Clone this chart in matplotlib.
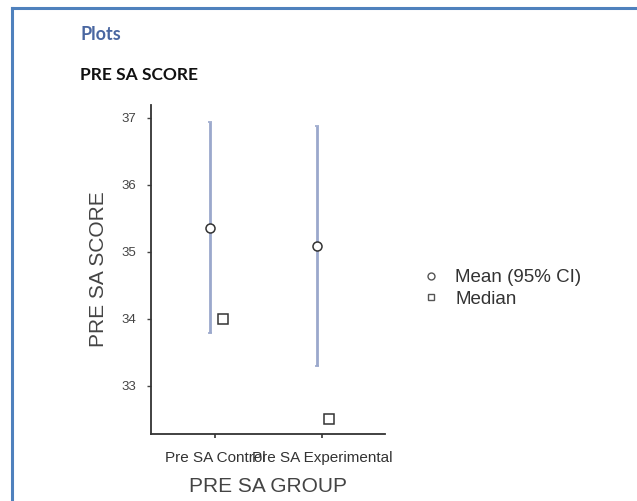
import matplotlib.pyplot as plt
from matplotlib.lines import Line2D

# data
groups = ['Pre SA Control', 'Pre SA Experimental']
means = [35.36, 35.09]
ci_low = [33.79, 33.30]
ci_high = [36.93, 36.88]
medians = [34.0, 32.5]

plt.rcParams['font.family'] = ['Liberation Sans', 'DejaVu Sans']

fig = plt.figure(figsize=(6.37, 5.01), dpi=100)
W, H = 637, 501

# page border (report frame)
fig.add_artist(Line2D([12 / W, 1], [1 - 8 / H, 1 - 8 / H], color='#4f81bd', lw=2.2))
fig.add_artist(Line2D([12 / W, 12 / W], [0, 1 - 8 / H], color='#4f81bd', lw=2.2))

fig.text(80 / W, 1 - 35 / H, 'Plots', color='#4a67a1', fontsize=13,
         fontweight='bold', family='Lato', va='center')
fig.text(80 / W, 1 - 75 / H, 'PRE SA SCORE', color='#111111', fontsize=12.5,
         fontweight='bold', family='Lato', va='center')

ax = fig.add_axes([151 / W, 1 - 434 / H, (385 - 151) / W, (434 - 105) / H])

x = list(range(len(groups)))
x_mean = [i - 0.05 for i in x]
x_med = [i + 0.07 for i in x]
yerr = [[m - lo for m, lo in zip(means, ci_low)],
        [hi - m for m, hi in zip(means, ci_high)]]

ax.errorbar(x_mean, means, yerr=yerr, fmt='none', ecolor='#9ba8cc',
            elinewidth=2, capsize=1.5, capthick=1.2, zorder=2)
ax.plot(x_mean, means, 'o', mfc='white', mec='#333333', ms=6.5, mew=1.1, zorder=3)
ax.plot(x_med, medians, 's', mfc='white', mec='#333333', ms=6.5, mew=1.1, zorder=3)

ax.set_xlim(-0.6, 1.59)
ax.set_ylim(32.28, 37.19)
ax.set_xticks(x)
ax.set_xticklabels(groups, fontsize=11, color='#333333')
ax.set_yticks([33, 34, 35, 36, 37])
ax.tick_params(axis='y', labelsize=9.5, colors='#444444', length=3, width=1, pad=8)
ax.tick_params(axis='x', length=3, width=1.2, colors='#333333', pad=9)
for side in ['top', 'right']:
    ax.spines[side].set_visible(False)
for side in ['left', 'bottom']:
    ax.spines[side].set_color('#333333')
    ax.spines[side].set_linewidth(1.3)

ax.set_xlabel('PRE SA GROUP', fontsize=15, color='#444444', labelpad=9)
ax.set_ylabel('PRE SA SCORE', fontsize=15, color='#444444', labelpad=9)

handles = [Line2D([], [], ls='none', marker='o', mfc='white', mec='#555555', ms=5),
           Line2D([], [], ls='none', marker='s', mfc='white', mec='#555555', ms=5)]
fig.legend(handles, ['Mean (95% CI)', 'Median'], loc='upper left',
           bbox_to_anchor=(414 / W, 1 - 260 / H), frameon=False, fontsize=13.5,
           handlelength=0.8, handletextpad=0.9, labelspacing=0.22, borderpad=0,
           labelcolor='#333333')

fig.savefig('out.png', dpi=100)
